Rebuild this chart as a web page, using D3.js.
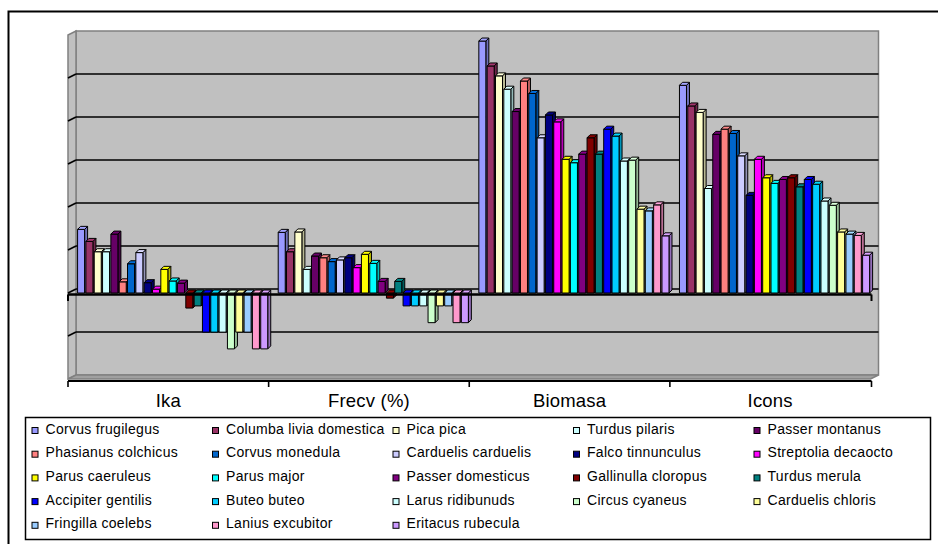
<!DOCTYPE html>
<html>
<head>
<meta charset="utf-8">
<script src="https://cdn.jsdelivr.net/npm/d3@7/dist/d3.min.js"></script>
<style>
  html, body { margin: 0; padding: 0; background: #ffffff; }
  svg { display: block; font-family: "Liberation Sans", Arial, sans-serif; }
</style>
</head>
<body>
<svg id="chart" width="938" height="544"></svg>
<script>
// Indicator groups along the category axis
const categories = ["Ika", "Frecv (%)", "Biomasa", "Icons"];

// Bird species, one series each
const species = [
  "Corvus frugilegus", "Columba livia domestica", "Pica pica", "Turdus pilaris", "Passer montanus",
  "Phasianus colchicus", "Corvus monedula", "Carduelis carduelis", "Falco tinnunculus", "Streptolia decaocto",
  "Parus caeruleus", "Parus major", "Passer domesticus", "Gallinulla cloropus", "Turdus merula",
  "Accipiter gentilis", "Buteo buteo", "Larus ridibunuds", "Circus cyaneus", "Carduelis chloris",
  "Fringilla coelebs", "Lanius excubitor", "Eritacus rubecula"
];

const seriesColors = [
  "#9999FF", "#993366", "#FFFFCC", "#CCFFFF", "#660066",
  "#FF8080", "#0066CC", "#CCCCFF", "#000080", "#FF00FF",
  "#FFFF00", "#00FFFF", "#800080", "#800000", "#008080",
  "#0000FF", "#00CCFF", "#CCFFFF", "#CCFFCC", "#FFFF99",
  "#99CCFF", "#FF99CC", "#CC99FF"
];

// Values per indicator, in species order
const ika = [1.48, 1.20, 0.96, 0.96, 1.37, 0.26, 0.68, 0.94, 0.24, 0.09, 0.55, 0.28, 0.23,
             -0.35, -0.30, -0.91, -0.91, -0.91, -1.30, -0.91, -0.91, -1.30, -1.30];
const frecv = [1.41, 0.96, 1.42, 0.55, 0.86, 0.82, 0.73, 0.77, 0.82, 0.59, 0.90, 0.69, 0.27,
               -0.12, 0.27, -0.30, -0.30, -0.30, -0.69, -0.30, -0.30, -0.69, -0.69];
const biomasa = [5.86, 5.28, 5.05, 4.74, 4.22, 4.93, 4.64, 3.61, 4.14, 3.98, 3.11, 3.03, 3.23,
                 3.61, 3.23, 3.81, 3.65, 3.07, 3.09, 1.95, 1.91, 2.05, 1.33];
const icons = [4.83, 4.35, 4.20, 2.43, 3.69, 3.81, 3.71, 3.19, 2.27, 3.11, 2.68, 2.55, 2.64,
               2.68, 2.47, 2.64, 2.53, 2.14, 2.04, 1.42, 1.37, 1.34, 0.88];

const valuesByCategory = [ika, frecv, biomasa, icons];

// Value-axis gridline positions (unlabelled)
const yTicks = [-2, -1, 0, 1, 2, 3, 4, 5, 6];

const svg = d3.select("#chart");

// ---- 3D frame geometry ----
const frontLeft = 68, frontRight = 870.5;
const wallDX = 8, wallDY = -4;          // depth offset of the back wall
const barDX = 4;                        // bars sit halfway into the depth

// value scale measured on the bar plane
const y = d3.scaleLinear().domain([-2, 6]).range([379, 35]);
const yWall = v => y(v) + wallDY;

const xCat = d3.scaleBand().domain(categories).range([frontLeft + barDX + 1, frontRight + barDX + 1]).padding(0);
const xSer = d3.scaleBand().domain(d3.range(species.length)).range([0, xCat.bandwidth()])
  .paddingInner(0).paddingOuter(0.55);

// outer chart border
svg.append("rect")
  .attr("x", 8.5).attr("y", 11.5).attr("width", 1000).attr("height", 600)
  .attr("fill", "#ffffff").attr("stroke", "#000").attr("stroke-width", 2);

// back wall
const wallTop = yWall(6), wallBottom = yWall(-2);
svg.append("rect")
  .attr("x", frontLeft + wallDX).attr("y", wallTop)
  .attr("width", frontRight - frontLeft).attr("height", wallBottom - wallTop)
  .attr("fill", "#C0C0C0").attr("stroke", "#808080").attr("stroke-width", 1.5);

// side wall
svg.append("path")
  .attr("d", `M${frontLeft},${y(6)} L${frontLeft + wallDX},${wallTop} L${frontLeft + wallDX},${wallBottom} L${frontLeft},${y(-2)} Z`)
  .attr("fill", "#C0C0C0").attr("stroke", "#808080").attr("stroke-width", 1.5);

// floor
svg.append("path")
  .attr("d", `M${frontLeft},${y(-2)} L${frontLeft + wallDX},${wallBottom} L${frontRight + wallDX},${wallBottom} L${frontRight},${y(-2)} Z`)
  .attr("fill", "#A0A0A0").attr("stroke", "#808080").attr("stroke-width", 1.5);

// gridlines on back wall and side wall
const grid = yTicks.filter(t => t > -2 && t < 6);
svg.append("g").selectAll("line").data(grid).join("line")
  .attr("x1", frontLeft + wallDX).attr("x2", frontRight + wallDX)
  .attr("y1", d => yWall(d)).attr("y2", d => yWall(d))
  .attr("stroke", "#000").attr("stroke-width", 1.6);
svg.append("g").selectAll("line").data(grid).join("line")
  .attr("x1", frontLeft).attr("x2", frontLeft + wallDX)
  .attr("y1", d => y(d)).attr("y2", d => yWall(d))
  .attr("stroke", "#000").attr("stroke-width", 1.6);

// ---- bars ----
const depth = 3;
const barsG = svg.append("g");
categories.forEach((cat, j) => {
  const vals = valuesByCategory[j];
  vals.forEach((v, i) => {
    const col = seriesColors[i];
    const x = xCat(cat) + xSer(i);
    const w = xSer.step() - 1.3;
    const y0 = y(Math.max(v, 0));
    const y1 = y(Math.min(v, 0));
    const g = barsG.append("g")
      .attr("stroke", "#000").attr("stroke-width", 1).attr("stroke-linejoin", "round");
    // right side face
    g.append("path")
      .attr("d", `M${x + w},${y0} L${x + w + depth},${y0 - depth} L${x + w + depth},${y1 - depth} L${x + w},${y1} Z`)
      .attr("fill", d3.color(col).darker(0.9));
    // front face
    g.append("rect")
      .attr("x", x).attr("y", y0).attr("width", w).attr("height", Math.max(0, y1 - y0))
      .attr("fill", col);
    // top face
    g.append("path")
      .attr("d", `M${x},${y0} L${x + depth},${y0 - depth} L${x + w + depth},${y0 - depth} L${x + w},${y0} Z`)
      .attr("fill", d3.color(col).brighter(0.2));
  });
});

// zero line across the front of the bars
svg.append("line")
  .attr("x1", frontLeft).attr("x2", frontRight + 1)
  .attr("y1", y(0) + 1.5).attr("y2", y(0) + 1.5)
  .attr("stroke", "#000").attr("stroke-width", 2.4);
[frontLeft, frontRight + 1].forEach(xx => {
  svg.append("line")
    .attr("x1", xx).attr("x2", xx)
    .attr("y1", y(0) + 1.5).attr("y2", y(0) + 8)
    .attr("stroke", "#000").attr("stroke-width", 2);
});

// ---- category axis ----
const axisY = y(-2) + 2;
const xFront = d3.scaleBand().domain(categories).range([frontLeft, frontRight]);
const axis = d3.axisBottom(xFront).tickSize(0).tickPadding(0);
const axG = svg.append("g").attr("transform", `translate(0,${axisY})`).call(axis);
axG.select(".domain").attr("stroke", "#000").attr("stroke-width", 2).attr("d", `M${frontLeft},0H${frontRight + 1}`);
axG.selectAll(".tick text")
  .attr("y", 0).attr("dy", 0)
  .attr("transform", "translate(0,25.5)")
  .attr("font-size", 18.5).attr("letter-spacing", 0.2).attr("fill", "#000")
  .attr("font-family", "\"Liberation Sans\", Arial, sans-serif");
// boundary ticks between categories
const boundaries = categories.map(c => xFront(c)).concat([frontRight + 1]);
axG.append("g").selectAll("line").data(boundaries).join("line")
  .attr("x1", d => d).attr("x2", d => d).attr("y1", 0).attr("y2", 6)
  .attr("stroke", "#000").attr("stroke-width", 1.6);

// ---- legend ----
const legendX = 25.5, legendY = 417.5, legendW = 905, legendH = 122;
svg.append("rect")
  .attr("x", legendX).attr("y", legendY).attr("width", legendW).attr("height", legendH)
  .attr("fill", "#fff").attr("stroke", "#000").attr("stroke-width", 1.5);

const cols = 5, colStep = 180.5, rowStep = 23.7;
const items = svg.append("g").selectAll("g").data(species).join("g")
  .attr("transform", (d, i) => `translate(${32 + (i % cols) * colStep},${428.5 + Math.floor(i / cols) * rowStep})`);
items.append("rect")
  .attr("x", 0).attr("y", -1).attr("width", 6).attr("height", 6)
  .attr("fill", (d, i) => seriesColors[i]).attr("stroke", "#000").attr("stroke-width", 1);
items.append("text")
  .attr("x", 13.5).attr("y", 5)
  .attr("font-size", 14).attr("letter-spacing", 0.3).attr("fill", "#000")
  .text(d => d);
</script>
</body>
</html>
